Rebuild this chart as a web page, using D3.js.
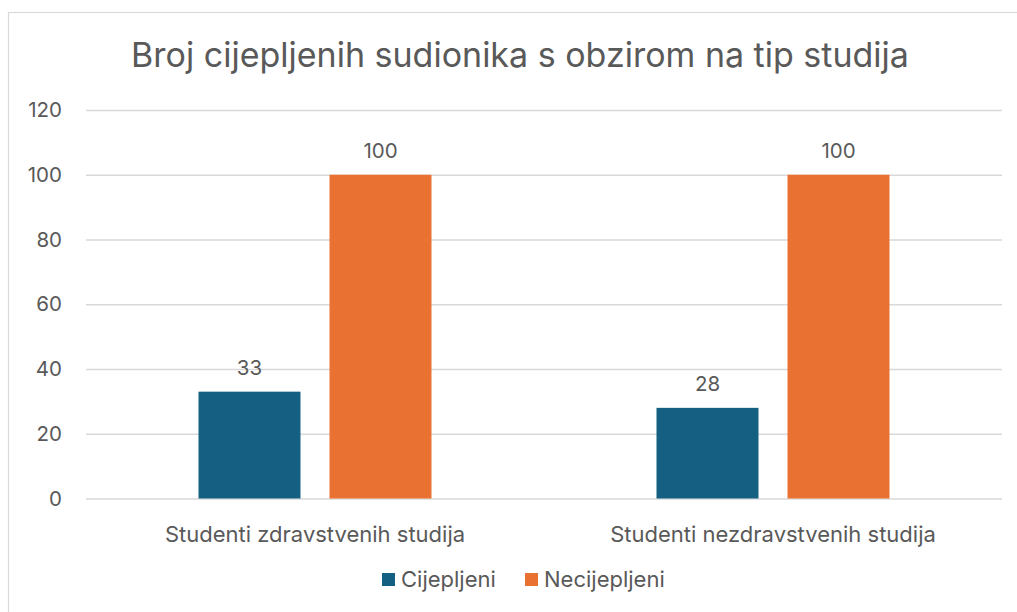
<!DOCTYPE html>
<html>
<head>
<meta charset="utf-8">
<script src="https://cdn.jsdelivr.net/npm/d3@7"></script>
<style>
  body { margin: 0; background: #fff; }
  text { font-family: Inter, "Open Sans", sans-serif; fill: #595959; }
</style>
</head>
<body>
<svg id="chart" width="1017" height="612"></svg>
<script>
const title = "Broj cijepljenih sudionika s obzirom na tip studija";
const categories = ["Studenti zdravstvenih studija", "Studenti nezdravstvenih studija"];
const seriesNames = ["Cijepljeni", "Necijepljeni"];
const cijepljeni = [33, 28];
const necijepljeni = [100, 100];
const yTicks = [0, 20, 40, 60, 80, 100, 120];
const colors = ["#156082", "#E97132"];

const svg = d3.select("#chart");
const margin = { left: 86, right: 15, top: 110, bottom: 113.5 };
const width = 1017 - margin.left - margin.right;
const height = 612 - margin.top - margin.bottom;

// chart frame
svg.append("rect")
  .attr("x", 8.5).attr("y", 12.5)
  .attr("width", 1020).attr("height", 620)
  .attr("fill", "none").attr("stroke", "#d9d9d9").attr("stroke-width", 1.2);

svg.append("text")
  .attr("x", 520).attr("y", 67)
  .attr("text-anchor", "middle")
  .style("font-size", "34px")
  .text(title);

const g = svg.append("g").attr("transform", `translate(${margin.left}, ${margin.top})`);

const xScale = d3.scaleBand().domain(categories).range([0, width]);
const yScale = d3.scaleLinear().domain([0, 120]).range([height, 0]);

// grid + y labels
const yAxis = g.append("g")
  .call(d3.axisLeft(yScale).tickValues(yTicks).tickSize(-width).tickPadding(24));
yAxis.select(".domain").remove();
yAxis.selectAll(".tick line").attr("stroke", "#d9d9d9").attr("stroke-width", 1.3);
yAxis.selectAll(".tick text").style("font-size", "20.5px").attr("fill", "#595959");

// x labels
const xAxis = g.append("g")
  .attr("transform", `translate(0, ${height})`)
  .call(d3.axisBottom(xScale).tickSize(0).tickPadding(28));
xAxis.select(".domain").remove();
xAxis.selectAll(".tick text").style("font-size", "22px").attr("fill", "#595959");

const data = categories.map((c, i) => ({ category: c, values: [cijepljeni[i], necijepljeni[i]] }));
const inner = d3.scaleBand().domain(seriesNames).range([-116.5, 116.5]).paddingInner(0.2214);

const groups = g.selectAll(".grp").data(data).enter().append("g")
  .attr("transform", d => `translate(${xScale(d.category) + xScale.bandwidth() / 2}, 0)`);

groups.selectAll("rect").data(d => d.values.map((v, j) => ({ name: seriesNames[j], v, j })))
  .enter().append("rect")
  .attr("x", d => inner(d.name))
  .attr("width", inner.bandwidth())
  .attr("y", d => yScale(d.v))
  .attr("height", d => height - yScale(d.v))
  .attr("fill", d => colors[d.j]);

groups.selectAll(".lbl").data(d => d.values.map((v, j) => ({ name: seriesNames[j], v, j })))
  .enter().append("text")
  .attr("x", d => inner(d.name) + inner.bandwidth() / 2)
  .attr("y", d => yScale(d.v) - 17)
  .attr("text-anchor", "middle")
  .style("font-size", "20.5px")
  .text(d => d.v);

// legend
const legendX = [382, 525];
const legend = svg.append("g");
seriesNames.forEach((s, i) => {
  legend.append("rect")
    .attr("x", legendX[i]).attr("y", 573)
    .attr("width", 13).attr("height", 13)
    .attr("fill", colors[i]);
  legend.append("text")
    .attr("x", legendX[i] + 19).attr("y", 587)
    .style("font-size", "22px")
    .text(s);
});
</script>
</body>
</html>
